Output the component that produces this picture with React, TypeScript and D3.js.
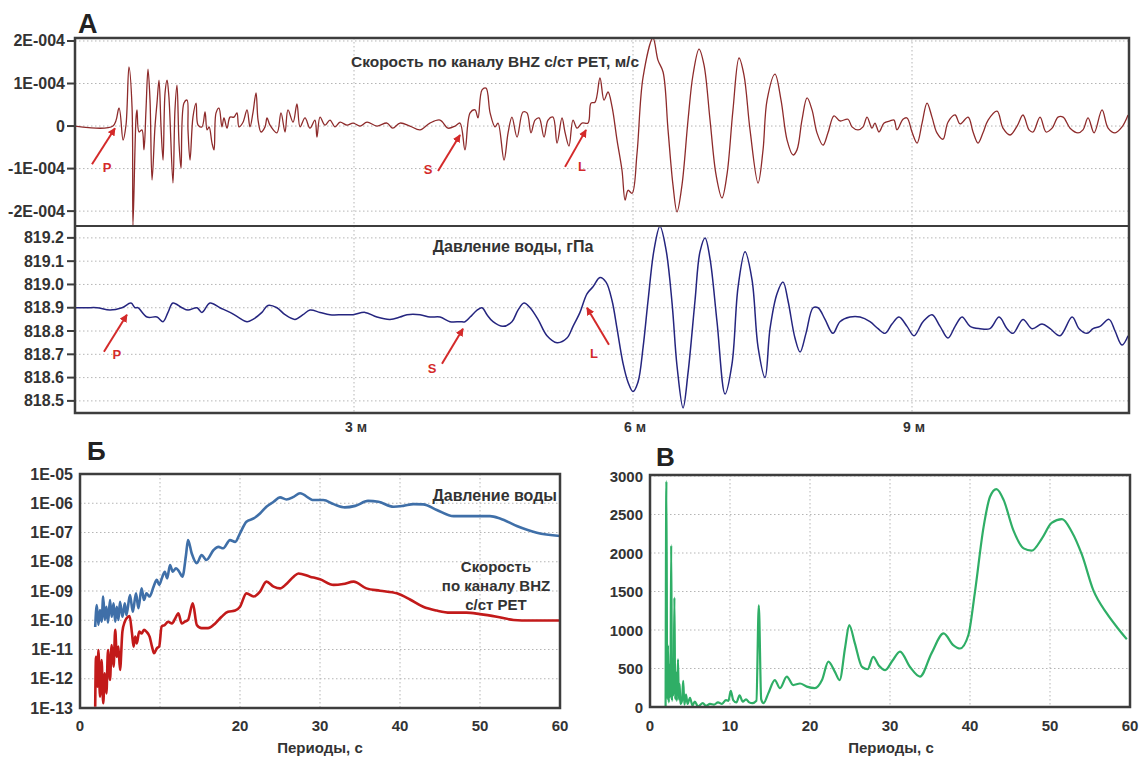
import React from "react";
import * as d3 from "d3";

// записи: время от начала (с), скорость в единицах 1E-004 м/с
const velocity: [number, number][] = [
  [0, 0], [24.5, 0], [28.4, 0.42], [31.0, -0.33], [32.9, 0.02], [34.8, 1.39], [36.8, 0.45], [37.4, -2.33],
  [39.4, 0.21], [40.0, 0.38], [41.3, -0.14], [43.2, -0.09], [44.5, -0.56], [45.8, 0.38], [47.1, 1.34],
  [48.4, 0.61], [49.7, -1.27], [51.6, -0.02], [52.9, 0.54], [54.2, 1.08], [55.5, -0.02], [56.8, -0.8],
  [58.1, 0.78], [59.4, 1.08], [60.6, 0.68], [63.2, -1.34], [64.5, 0.38], [65.8, 0.96], [67.1, -0.4],
  [68.4, -0.99], [70.3, 0.54], [72.3, 0.61], [72.9, -0.09], [74.2, -0.8], [76.1, 0.21], [78.1, 0.54],
  [79.4, 0.02], [81.9, -0.02], [83.9, 0.33], [85.2, -0.09], [86.5, -0.02], [88.4, -0.4], [89.7, -0.56],
  [91.0, 0.31], [92.9, 0.42], [94.8, -0.02], [96.1, 0.19], [98.1, -0.05], [100.0, 0.21], [102.6, 0.21],
  [104.5, 0.31], [105.8, -0.02], [108.4, 0.09], [111.0, 0.38], [112.9, -0.02], [114.8, 0.31], [116.8, 0.78],
  [118.1, 0.14], [120.0, -0.14], [122.6, -0.02], [123.9, 0.19], [125.8, 0.02], [130.3, -0.16], [132.9, 0.31],
  [135.5, -0.14], [137.4, 0.38], [140.7, 0.09], [143.2, 0.52], [145.2, -0.02], [148.4, 0.19], [151.6, -0.05],
  [154.8, 0.14], [156.1, -0.26], [158.1, 0.21], [161.3, 0.02], [164.5, 0.14], [167.8, -0.02], [171.0, 0.09],
  [175.5, 0.02], [179.4, 0.07], [183.9, 0], [188.4, 0.09], [194.8, 0], [201.3, 0.07], [205.0, -0.05],
  [209.7, 0.07], [216.1, 0], [222.6, -0.09], [229.0, 0.07], [235.5, 0.14], [240.7, -0.05], [245.2, 0],
  [248.4, 0.07], [251.6, -0.56], [254.9, 0.31], [258.1, 0.38], [260.0, 0.19], [262.6, 0.85], [265.2, 0.89],
  [267.8, 0.31], [271.0, -0.02], [272.9, 0.07], [276.8, -0.8], [279.4, -0.16], [281.9, 0.21], [285.2, -0.26],
  [289.0, 0.33], [291.6, 0.31], [294.2, -0.16], [296.8, 0.14], [299.4, 0.19], [302.6, -0.26], [305.2, 0.14],
  [308.4, 0.21], [311.0, -0.4], [314.2, 0.19], [316.1, -0.14], [318.7, -0.47], [321.3, 0.14], [323.9, -0.05],
  [327.1, 0.07], [331.0, 0.07], [332.9, 0.54], [335.5, 0.56], [338.7, 1.13], [341.3, 0.61], [343.9, 0.8],
  [346.5, 0.45], [349.7, -0.33], [352.9, -1.04], [354.9, -1.74], [356.8, -1.51], [359.4, -1.58], [362.6, -0.64],
  [366.5, 1.15], [372.9, 2.07], [376.1, 1.55], [379.4, 1.27], [382.6, -0.09], [385.8, -1.39], [388.4, -2.02],
  [391.6, -1.39], [395.5, 0.14], [398.7, 1.2], [402.6, 1.81], [405.8, 1.44], [409.7, 0.14], [413.6, -1.15],
  [417.4, -1.69], [420.6, -1.15], [424.5, 0.38], [428.4, 1.6], [431.6, 1.2], [435.5, -0.09], [440.7, -1.34],
  [443.9, -0.56], [446.5, 0.61], [451.6, 1.22], [455.5, 0.61], [459.4, -0.33], [463.2, -0.68], [465.8, -0.56],
  [469.0, 0.14], [472.3, 0.66], [475.5, 0.38], [478.7, -0.16], [482.6, -0.45], [485.8, -0.16], [489.7, 0.24],
  [493.5, 0.12], [498.7, 0.16], [501.3, -0.02], [505.2, -0.09], [508.4, -0.02], [511.0, 0.21], [514.2, -0.05],
  [516.1, 0.07], [518.7, -0.14], [522.0, 0.07], [525.8, 0.12], [528.4, 0.14], [530.3, -0.09], [534.2, 0.16],
  [536.8, 0.19], [540.0, -0.14], [543.3, -0.4], [546.5, 0.07], [549.7, 0.54], [552.9, 0.21], [556.1, -0.16],
  [560.0, -0.31], [563.2, 0.09], [567.8, 0.26], [571.0, 0.05], [576.2, 0.21], [579.4, -0.14], [582.6, -0.4],
  [585.8, -0.16], [589.1, 0.14], [594.9, 0.35], [598.7, -0.05], [603.3, -0.21], [607.8, 0], [611.6, 0.26],
  [615.5, -0.09], [618.1, -0.14], [622.6, 0.21], [626.5, -0.14], [630.4, -0.05], [634.2, 0.21], [637.5, 0.21],
  [642.0, -0.05], [647.1, -0.16], [650.3, -0.09], [653.6, 0.19], [657.5, -0.16], [662.6, 0.38], [666.5, -0.05],
  [671.0, -0.16], [675.5, -0.02], [679.4, 0.26],
];

// давление воды, гПа
const pressure: [number, number][] = [
  [0, 818.9], [7.7, 818.9], [14.2, 818.9], [22.6, 818.89], [30.3, 818.9], [36.1, 818.92], [38.7, 818.9],
  [40.6, 818.9], [46.5, 818.86], [52.9, 818.86], [56.8, 818.84], [60.0, 818.88], [63.2, 818.92], [69.0, 818.9],
  [72.9, 818.89], [78.7, 818.9], [81.9, 818.88], [87.1, 818.92], [93.5, 818.9], [100.0, 818.88], [105.2, 818.86],
  [111.0, 818.84], [114.8, 818.85], [120.6, 818.88], [124.5, 818.91], [130.3, 818.9], [135.5, 818.87],
  [141.9, 818.85], [147.1, 818.87], [151.6, 818.89], [158.1, 818.88], [164.5, 818.87], [172.9, 818.87],
  [179.4, 818.87], [187.1, 818.88], [194.8, 818.86], [203.2, 818.85], [209.7, 818.86], [214.2, 818.87],
  [222.6, 818.87], [229.0, 818.86], [235.5, 818.86], [241.9, 818.84], [248.4, 818.84], [251.6, 818.84],
  [254.9, 818.86], [259.4, 818.89], [262.6, 818.9], [265.8, 818.87], [269.7, 818.84], [276.1, 818.82],
  [281.9, 818.84], [285.8, 818.89], [289.7, 818.92], [293.6, 818.9], [298.7, 818.85], [304.5, 818.78],
  [311.0, 818.75], [317.4, 818.77], [321.3, 818.82], [325.8, 818.88], [330.3, 818.96], [334.2, 818.99],
  [338.7, 819.03], [342.6, 819.01], [346.5, 818.93], [349.7, 818.81], [353.6, 818.66], [356.8, 818.58],
  [360.0, 818.54], [363.2, 818.58], [366.5, 818.73], [369.7, 818.93], [373.6, 819.15], [377.4, 819.25],
  [381.3, 819.15], [385.2, 818.92], [388.4, 818.65], [392.3, 818.47], [395.5, 818.62], [400.0, 818.93],
  [403.2, 819.14], [406.5, 819.2], [409.7, 819.11], [414.2, 818.84], [419.4, 818.53], [423.9, 818.66],
  [427.8, 818.99], [432.3, 819.14], [436.8, 819.02], [440.7, 818.73], [445.2, 818.6], [448.4, 818.81],
  [452.9, 818.96], [456.8, 819.01], [460.0, 818.93], [464.5, 818.77], [467.8, 818.71], [471.6, 818.79],
  [476.2, 818.9], [479.4, 818.9], [483.9, 818.85], [489.0, 818.79], [493.5, 818.84], [500.0, 818.86],
  [506.5, 818.86], [512.9, 818.84], [518.1, 818.81], [522.6, 818.79], [527.1, 818.83], [531.6, 818.86],
  [536.8, 818.82], [541.3, 818.78], [547.1, 818.84], [552.9, 818.87], [558.1, 818.82], [563.2, 818.77],
  [567.8, 818.82], [572.3, 818.86], [577.5, 818.82], [583.9, 818.81], [590.3, 818.81], [596.2, 818.86],
  [601.3, 818.81], [605.2, 818.79], [611.6, 818.85], [617.5, 818.81], [623.9, 818.83], [629.1, 818.81],
  [635.5, 818.78], [643.3, 818.86], [647.8, 818.81], [652.9, 818.79], [656.8, 818.81], [661.3, 818.82],
  [667.1, 818.85], [671.0, 818.8], [675.5, 818.74], [679.4, 818.78],
];

const velTicks = [2, 1, 0, -1, -2];
const velTickLabels = ["2E-004", "1E-004", "0", "-1E-004", "-2E-004"];
const pressTicks = [819.2, 819.1, 819.0, 818.9, 818.8, 818.7, 818.6, 818.5];
const timeTicks = [180, 360, 540];
const timeTickLabels = ["3 м", "6 м", "9 м"];

// вступления волн: фаза, время (с), значение в точке
const velArrivals: [string, number, number][] = [["P", 25.8, -0.05], ["S", 248.4, -0.21], ["L", 329.7, -0.09]];
const pressArrivals: [string, number, number][] = [["P", 33.5, 818.87], ["S", 250.3, 818.81], ["L", 330.3, 818.9]];

// спектры: период (с), lg спектральной плотности
const pressureSpectrum: [number, number][] = [
  [1.9, -10.23], [2.1, -9.48], [2.3, -10.16], [2.5, -9.65], [2.7, -10.05], [2.9, -9.19], [3.1, -9.99], [3.3, -9.54],
  [3.5, -10.08], [3.75, -9.31], [3.96, -9.88], [4.2, -9.42], [4.4, -10.05], [4.6, -9.54], [4.8, -9.99], [5.0, -9.37],
  [5.3, -9.88], [5.6, -9.42], [5.8, -9.82], [6.25, -9.14], [6.6, -9.71], [7.0, -9.08], [7.3, -9.59], [7.7, -8.91],
  [8.0, -9.31], [8.3, -9.08], [8.7, -9.19], [9.2, -8.85], [9.6, -8.62], [9.9, -8.79], [10.3, -8.51], [10.6, -8.34],
  [10.9, -8.57], [11.25, -8.11], [11.6, -8.34], [12.0, -8.22], [12.4, -8.34], [12.8, -8.51], [13.25, -7.77],
  [13.5, -7.26], [13.96, -7.71], [14.6, -8.05], [15.2, -7.77], [15.8, -7.94], [16.7, -7.6], [17.3, -7.49],
  [17.9, -7.54], [18.75, -7.26], [19.4, -7.32], [20, -7.03], [20.8, -6.63], [21.7, -6.52], [22.5, -6.35],
  [23.3, -6.12], [24.2, -5.95], [25.0, -5.8], [25.8, -5.87], [26.7, -5.78], [27.5, -5.66], [29.2, -5.89],
  [30.4, -5.89], [31.7, -6.03], [33.1, -6.14], [34.4, -6.09], [36.0, -5.92], [37.3, -5.95], [39.2, -6.12],
  [40.4, -6.09], [41.7, -6.03], [42.9, -6.04], [44.6, -6.23], [46.7, -6.44], [48.75, -6.44], [51.25, -6.44],
  [52.5, -6.52], [54.6, -6.78], [57.1, -7.01], [60, -7.12],
];
const velocitySpectrum: [number, number][] = [
  [1.9, -12.96], [2.0, -11.25], [2.2, -12.27], [2.3, -11.02], [2.5, -12.61], [2.7, -11.36], [2.9, -12.84],
  [3.1, -11.81], [3.3, -12.5], [3.5, -11.02], [3.75, -12.04], [3.96, -10.85], [4.2, -11.59], [4.4, -10.33],
  [4.6, -11.25], [4.8, -10.9], [5.0, -11.7], [5.3, -10.39], [5.6, -10.05], [5.8, -9.94], [6.2, -9.86],
  [6.5, -10.45], [6.7, -10.9], [6.9, -10.56], [7.1, -10.79], [7.4, -10.39], [7.7, -10.45], [8.0, -10.33],
  [8.3, -10.39], [8.7, -10.56], [9.0, -10.9], [9.25, -11.13], [9.6, -10.96], [9.9, -10.9], [10.2, -10.22],
  [10.6, -10.16], [11.0, -10.05], [11.5, -10.11], [11.9, -9.94], [12.3, -9.76], [12.7, -10.11], [13.1, -10.05],
  [13.5, -9.99], [14.1, -9.42], [14.6, -10.16], [15.2, -10.27], [16.0, -10.27], [16.9, -10.11], [17.7, -9.88],
  [18.5, -9.71], [19.4, -9.67], [20, -9.54], [20.8, -9.08], [21.7, -9.19], [22.5, -9.02], [23.3, -8.68],
  [24.2, -8.85], [25, -8.91], [25.8, -8.76], [26.7, -8.51], [27.3, -8.4], [28.75, -8.51], [30, -8.6],
  [31.7, -8.79], [32.9, -8.76], [34.2, -8.68], [35.8, -8.91], [37.5, -8.99], [39.6, -9.08], [41.25, -9.29],
  [42.9, -9.54], [44.6, -9.67], [46.25, -9.74], [48.3, -9.74], [50, -9.79], [52.1, -9.88], [54.2, -9.99],
  [56.25, -10.01], [60, -10.01],
];
const specExponents = [-5, -6, -7, -8, -9, -10, -11, -12, -13];
const periodTicksB = [0, 20, 30, 40, 50, 60];
const periodGrid = [10, 20, 30, 40, 50];

// отношение спектров
const ratio: [number, number][] = [
  [1.95, 0], [2.05, 2930], [2.15, 100], [2.25, 800], [2.35, 60], [2.45, 550], [2.55, 120], [2.65, 2100],
  [2.75, 80], [2.85, 500], [2.95, 150], [3.05, 1420], [3.15, 100], [3.25, 450], [3.35, 80], [3.5, 620],
  [3.6, 100], [3.7, 300], [3.8, 40], [4.0, 80], [4.15, 340], [4.3, 30], [4.5, 160], [4.7, 40], [5.0, 120],
  [5.3, 20], [5.6, 70], [6.0, 10], [6.6, 50], [7.0, 15], [7.5, 40], [8.0, 30], [8.5, 60], [9.0, 40], [9.5, 90],
  [9.8, 80], [10.1, 210], [10.4, 90], [10.8, 60], [11.2, 150], [11.6, 70], [12.0, 100], [12.4, 60], [12.8, 50],
  [13.3, 80], [13.6, 1320], [13.9, 100], [14.2, 50], [14.8, 180], [15.6, 350], [16.25, 245], [17.1, 395],
  [17.9, 285], [18.75, 305], [19.6, 265], [20.6, 245], [21.5, 350], [22.3, 590], [23.1, 460], [23.7, 350],
  [24.4, 780], [24.9, 1065], [25.6, 830], [26.5, 520], [27.2, 490], [27.9, 650], [28.6, 540], [29.4, 480],
  [30.3, 600], [31.25, 720], [32.5, 520], [33.75, 395], [35.2, 700], [36.7, 955], [37.9, 805], [38.75, 760],
  [39.8, 935], [40.6, 1480], [41.7, 2340], [42.5, 2730], [43.3, 2830], [44.2, 2690], [45.4, 2300], [46.7, 2060],
  [47.7, 2030], [49.0, 2190], [50.2, 2390], [51.5, 2440], [52.7, 2280], [54.0, 1975], [55.4, 1520], [57.1, 1215],
  [58.5, 1020], [59.6, 880],
];
const ratioTicks = [0, 500, 1000, 1500, 2000, 2500, 3000];
const periodTicksC = [0, 10, 20, 30, 40, 50, 60];

const FONT = "'Liberation Sans', Arial, sans-serif";
const TXT = "#333";
const GRID = "#b5b5b5";
const FRAME = "#3d3d3d";
const RED = "#d42a2a";

export default function App() {
  // панель А
  const xTime = d3.scaleLinear().domain([0, 680]).range([75, 1129]);
  const yVel = d3.scaleLinear().domain([-2.35, 2.07]).range([226, 38]);
  const yPress = d3.scaleLinear().domain([818.448, 819.251]).range([413, 226]);
  const velLine = d3.line<[number, number]>().x(d => xTime(d[0])).y(d => yVel(d[1])).curve(d3.curveCatmullRom.alpha(0.5));
  const pressLine = d3.line<[number, number]>().x(d => xTime(d[0])).y(d => yPress(d[1])).curve(d3.curveCatmullRom.alpha(0.5));

  // панель Б
  const xB = d3.scaleLinear().domain([0, 60]).range([80, 560]);
  const yB = d3.scaleLog().domain([1e-13, 1e-5]).range([708, 474]);
  const specLine = d3.line<[number, number]>().x(d => xB(d[0])).y(d => yB(10 ** d[1])).curve(d3.curveMonotoneX);

  // панель В
  const xC = d3.scaleLinear().domain([0, 60]).range([650, 1130]);
  const yC = d3.scaleLinear().domain([0, 3000]).range([707, 476]);
  const ratioLine = d3.line<[number, number]>().x(d => xC(d[0])).y(d => yC(d[1])).curve(d3.curveMonotoneX);

  const velArrowOff = [[-23, 36, 15, 3], [-22, 36, -10, -2], [-21, 37, 17, -1]];
  const pressArrowOff = [[-23, 37, 13, 2], [-21, 35, -10, 4], [22, 37, -15, 8]];

  const arrows = (list: [string, number, number][], ys: (v: number) => number, off: number[][]) =>
    list.map(([name, t, v], i) => {
      const tx = xTime(t), ty = ys(v);
      const [dx, dy, lx, ly] = off[i];
      return (
        <g key={name}>
          <line x1={tx + dx} y1={ty + dy} x2={tx} y2={ty} stroke={RED} strokeWidth={2} markerEnd="url(#ah)" />
          <text x={tx + dx + lx} y={ty + dy + ly + 5} textAnchor="middle" fontSize={13} fontWeight="bold" fill={RED}>{name}</text>
        </g>
      );
    });

  return (
    <svg width={1140} height={760} style={{ position: "absolute", left: 0, top: 0, background: "#fff" }} fontFamily={FONT}>
      <defs>
        <marker id="ah" viewBox="0 0 10 10" refX={9} refY={5} markerWidth={4} markerHeight={4} orient="auto">
          <path d="M0,0L10,5L0,10z" fill={RED} />
        </marker>
        <clipPath id="clipTop"><rect x={75} y={38} width={1054} height={188} /></clipPath>
        <clipPath id="clipBot"><rect x={75} y={226} width={1054} height={187} /></clipPath>
        <clipPath id="clipB"><rect x={80} y={474} width={480} height={234} /></clipPath>
        <clipPath id="clipC"><rect x={650} y={475} width={480} height={232} /></clipPath>
      </defs>

      {/* ===== А ===== */}
      <text x={78} y={33} fontSize={27} fontWeight="bold" fill="#222">А</text>
      {velTicks.map(v => (
        <line key={"gv" + v} x1={75} x2={1129} y1={yVel(v)} y2={yVel(v)} stroke={GRID} strokeDasharray="1.5,2.5" />
      ))}
      {pressTicks.map(v => (
        <line key={"gp" + v} x1={75} x2={1129} y1={yPress(v)} y2={yPress(v)} stroke={GRID} strokeDasharray="1.5,2.5" />
      ))}
      {timeTicks.map(t => (
        <line key={"gt" + t} x1={xTime(t)} x2={xTime(t)} y1={38} y2={413} stroke={GRID} strokeDasharray="1.5,2.5" />
      ))}
      <text x={495} y={67} textAnchor="middle" fontSize={15.5} fontWeight="bold" fill={TXT}>Скорость по каналу BHZ с/ст PET, м/с</text>
      <text x={513} y={252} textAnchor="middle" fontSize={16} fontWeight="bold" fill={TXT}>Давление воды, гПа</text>

      <path d={velLine(velocity) ?? ""} fill="none" stroke="#8e2b2b" strokeWidth={1.3} strokeLinejoin="round" clipPath="url(#clipTop)" />
      <path d={pressLine(pressure) ?? ""} fill="none" stroke="#25257f" strokeWidth={1.5} strokeLinejoin="round" clipPath="url(#clipBot)" />

      {arrows(velArrivals, yVel, velArrowOff)}
      {arrows(pressArrivals, yPress, pressArrowOff)}

      <rect x={75} y={38} width={1054} height={375} fill="none" stroke={FRAME} strokeWidth={2.5} />
      <line x1={75} x2={1129} y1={226} y2={226} stroke={FRAME} strokeWidth={2} />
      {velTicks.map((v, i) => (
        <g key={"tv" + v}>
          <line x1={67} x2={75} y1={yVel(v)} y2={yVel(v)} stroke={FRAME} strokeWidth={2} />
          <text x={65} y={yVel(v) + 5.5} textAnchor="end" fontSize={16} fontWeight="bold" fill={TXT}>{velTickLabels[i]}</text>
        </g>
      ))}
      {pressTicks.map(v => (
        <g key={"tp" + v}>
          <line x1={67} x2={75} y1={yPress(v)} y2={yPress(v)} stroke={FRAME} strokeWidth={2} />
          <text x={64} y={yPress(v) + 5.5} textAnchor="end" fontSize={16} fontWeight="bold" fill={TXT}>{d3.format(".1f")(v)}</text>
        </g>
      ))}
      {timeTicks.map((t, i) => (
        <text key={"tt" + t} x={xTime(t) + 2} y={432} textAnchor="middle" fontSize={14} fontWeight="bold" fill={TXT}>{timeTickLabels[i]}</text>
      ))}

      {/* ===== Б ===== */}
      <text x={87} y={460} fontSize={26} fontWeight="bold" fill="#222">Б</text>
      {specExponents.slice(1, -1).map(e => (
        <line key={"gb" + e} x1={80} x2={560} y1={yB(10 ** e)} y2={yB(10 ** e)} stroke={GRID} strokeDasharray="1.5,2.5" />
      ))}
      {periodGrid.map(p => (
        <line key={"gbx" + p} x1={xB(p)} x2={xB(p)} y1={474} y2={708} stroke={GRID} strokeDasharray="1.5,2.5" />
      ))}
      <path d={specLine(pressureSpectrum) ?? ""} fill="none" stroke="#3f6fa8" strokeWidth={2.6} strokeLinejoin="round" clipPath="url(#clipB)" />
      <path d={specLine(velocitySpectrum) ?? ""} fill="none" stroke="#c21a1a" strokeWidth={2.6} strokeLinejoin="round" clipPath="url(#clipB)" />
      <rect x={80} y={474} width={480} height={234} fill="none" stroke={FRAME} strokeWidth={2.5} />
      {specExponents.map(e => (
        <text key={"tb" + e} x={73} y={yB(10 ** e) + 5.5} textAnchor="end" fontSize={16} fontWeight="bold" fill={TXT}>
          {"1E-" + String(-e).padStart(2, "0")}
        </text>
      ))}
      {periodTicksB.map(p => (
        <text key={"tbx" + p} x={xB(p)} y={731} textAnchor="middle" fontSize={15} fontWeight="bold" fill={TXT}>{p}</text>
      ))}
      <text x={320} y={753} textAnchor="middle" fontSize={15} fontWeight="bold" fill={TXT}>Периоды, с</text>
      <text x={557} y={501} textAnchor="end" fontSize={16} fontWeight="bold" fill={TXT}>Давление воды</text>
      <text x={496} y={572} textAnchor="middle" fontSize={15} fontWeight="bold" fill={TXT}>Скорость</text>
      <text x={496} y={591} textAnchor="middle" fontSize={15} fontWeight="bold" fill={TXT}>по каналу BHZ</text>
      <text x={496} y={610} textAnchor="middle" fontSize={15} fontWeight="bold" fill={TXT}>с/ст PET</text>

      {/* ===== В ===== */}
      <text x={656} y={466} fontSize={26} fontWeight="bold" fill="#222">В</text>
      {ratioTicks.slice(1).map(v => (
        <line key={"gc" + v} x1={650} x2={1130} y1={yC(v)} y2={yC(v)} stroke={GRID} strokeDasharray="1.5,2.5" />
      ))}
      {periodGrid.map(p => (
        <line key={"gcx" + p} x1={xC(p)} x2={xC(p)} y1={475} y2={707} stroke={GRID} strokeDasharray="1.5,2.5" />
      ))}
      <path d={ratioLine(ratio) ?? ""} fill="none" stroke="#2fae66" strokeWidth={2.2} strokeLinejoin="round" clipPath="url(#clipC)" />
      <rect x={650} y={475} width={480} height={232} fill="none" stroke={FRAME} strokeWidth={2.5} />
      {ratioTicks.map(v => (
        <text key={"tc" + v} x={643} y={yC(v) + 5.5} textAnchor="end" fontSize={15} fontWeight="bold" fill={TXT}>{v}</text>
      ))}
      {periodTicksC.map(p => (
        <text key={"tcx" + p} x={xC(p)} y={731} textAnchor="middle" fontSize={15} fontWeight="bold" fill={TXT}>{p}</text>
      ))}
      <text x={891} y={753} textAnchor="middle" fontSize={15} fontWeight="bold" fill={TXT}>Периоды, с</text>
    </svg>
  );
}
